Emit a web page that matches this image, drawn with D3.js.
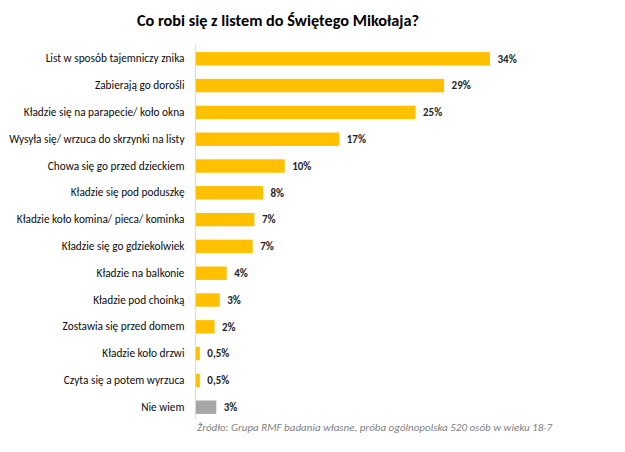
<!DOCTYPE html>
<html>
<head>
<meta charset="utf-8">
<script src="https://cdn.jsdelivr.net/npm/d3@7"></script>
<style>
  html, body { margin: 0; padding: 0; background: #ffffff; }
  svg { display: block; }
</style>
</head>
<body>
<div id="chart"></div>
<script>
const title = "Co robi się z listem do Świętego Mikołaja?";
const source = "Źródło: Grupa RMF badania własne, próba ogólnopolska 520 osób w wieku 18-7";
const categories = [
  "List w sposób tajemniczy znika",
  "Zabierają go dorośli",
  "Kładzie się na parapecie/ koło okna",
  "Wysyła się/ wrzuca do skrzynki na listy",
  "Chowa się go przed dzieckiem",
  "Kładzie się pod poduszkę",
  "Kładzie koło komina/ pieca/ kominka",
  "Kładzie się go gdziekolwiek",
  "Kładzie na balkonie",
  "Kładzie pod choinką",
  "Zostawia się przed domem",
  "Kładzie koło drzwi",
  "Czyta się a potem wyrzuca",
  "Nie wiem"
];
// values
const values = [34.0, 28.7, 25.4, 16.6, 10.3, 7.8, 6.8, 6.6, 3.6, 2.8, 2.2, 0.5, 0.5, 2.4];
// printed value labels
const valueLabels = ["34%", "29%", "25%", "17%", "10%", "8%", "7%", "7%", "4%", "3%", "2%", "0,5%", "0,5%", "3%"];
const colors = ["#FFC000", "#FFC000", "#FFC000", "#FFC000", "#FFC000", "#FFC000", "#FFC000",
                "#FFC000", "#FFC000", "#FFC000", "#FFC000", "#FFC000", "#FFC000", "#A6A6A6"];

const W = 625, H = 452;
const FONT = "Carlito, Calibri, Lato, sans-serif";

const svg = d3.select("#chart").append("svg")
  .attr("width", W).attr("height", H)
  .style("font-family", FONT);

const x = d3.scaleLinear().domain([0, 34]).range([195.5, 490]);
const y = d3.scaleBand().domain(categories).range([38.7, 427.3]).paddingInner(0.5).paddingOuter(0.5);

// title
svg.append("text")
  .attr("x", 278).attr("y", 26)
  .attr("text-anchor", "middle")
  .style("font-size", "16.3px").style("font-weight", "bold").style("fill", "#000")
  .text(title);

// bars
svg.append("g").selectAll("rect")
  .data(categories)
  .join("rect")
  .attr("x", x(0))
  .attr("y", d => y(d))
  .attr("width", (d, i) => x(values[i]) - x(0))
  .attr("height", y.bandwidth())
  .attr("fill", (d, i) => colors[i]);

// category axis
const axis = svg.append("g")
  .attr("transform", `translate(${x(0)},0)`)
  .call(d3.axisLeft(y).tickSize(0).tickPadding(11));
axis.select(".domain").remove();
axis.selectAll("text")
  .style("font-family", FONT)
  .style("font-size", "11.3px")
  .style("fill", "#0d0d0d");

// axis line
svg.append("line")
  .attr("x1", x(0)).attr("x2", x(0))
  .attr("y1", 45).attr("y2", 419)
  .attr("stroke", "#d9d9d9").attr("stroke-width", 1);

// value labels
svg.append("g").selectAll("text")
  .data(categories)
  .join("text")
  .attr("x", (d, i) => x(values[i]) + 7.5)
  .attr("y", d => y(d) + y.bandwidth() / 2)
  .attr("dy", "0.35em")
  .style("font-size", "11px").style("font-weight", "bold").style("fill", "#262626")
  .text((d, i) => valueLabels[i]);

// source
svg.append("text")
  .attr("x", 197).attr("y", 431)
  .style("font-size", "11px").style("font-style", "italic").style("fill", "#808080")
  .text(source);
</script>
</body>
</html>
